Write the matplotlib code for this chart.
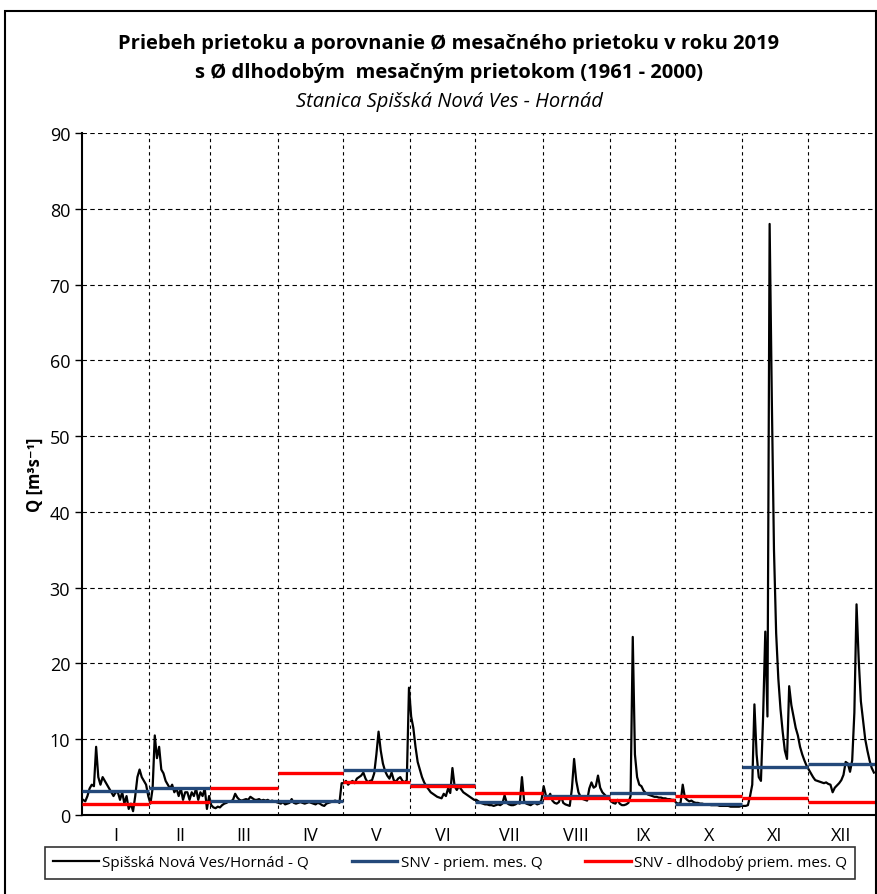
import numpy as np
import matplotlib
matplotlib.use("Agg")
import matplotlib.pyplot as plt
from matplotlib.patches import Rectangle
from matplotlib.lines import Line2D

plt.rcParams["font.family"] = ["Open Sans", "DejaVu Sans"]

months = ["I", "II", "III", "IV", "V", "VI", "VII", "VIII", "IX", "X", "XI", "XII"]
days_in_month = [31, 28, 31, 30, 31, 30, 31, 31, 30, 31, 30, 31]

# daily discharge Q 2019 [m3/s]
q_jan = [2.0, 1.8, 2.5, 3.5, 4.0, 3.8, 9.0, 5.0, 4.0, 5.0, 4.5, 4.0, 3.5, 3.0, 2.5, 3.0,
         3.0, 2.0, 3.0, 1.5, 2.5, 0.8, 1.5, 0.5, 2.5, 5.0, 6.0, 5.0, 4.5, 4.0, 2.5]
q_feb = [1.5, 3.5, 10.5, 7.5, 9.0, 6.0, 5.5, 4.5, 4.0, 3.5, 4.0, 3.0, 3.5, 2.5,
         3.5, 2.0, 3.0, 3.0, 2.0, 3.0, 2.5, 3.5, 2.0, 3.0, 2.5, 3.5, 0.8, 2.5]
q_mar = [1.3, 1.0, 0.9, 1.1, 1.0, 1.3, 1.5, 1.6, 1.8, 1.8, 2.0, 2.8, 2.3, 2.0, 1.9, 2.0,
         2.1, 2.0, 2.4, 2.2, 2.0, 2.0, 2.1, 1.9, 2.0, 1.9, 2.0, 1.8, 1.9, 1.8, 1.7]
q_apr = [1.6, 1.5, 1.7, 1.4, 1.5, 1.6, 2.1, 1.6, 1.5, 1.6, 1.7, 1.6, 1.5, 1.6, 1.7,
         1.6, 1.5, 1.4, 1.6, 1.5, 1.3, 1.2, 1.5, 1.6, 1.7, 1.8, 1.9, 1.8, 1.6, 4.2]
q_may = [4.2, 4.5, 4.0, 4.3, 4.5, 4.2, 4.8, 5.0, 5.2, 5.6, 4.8, 4.3, 4.5, 4.6, 5.5, 8.0,
         11.0, 8.5, 6.8, 5.8, 5.2, 4.8, 5.6, 4.6, 4.4, 4.8, 5.0, 4.5, 4.3, 4.6, 16.8]
q_jun = [13.0, 11.5, 9.0, 7.0, 6.0, 5.0, 4.3, 3.8, 3.4, 3.0, 2.8, 2.6, 2.4, 2.3, 2.2,
         2.8, 2.5, 3.5, 2.9, 6.2, 3.8, 3.3, 3.8, 3.4, 3.0, 2.8, 2.6, 2.4, 2.2, 2.0]
q_jul = [2.0, 1.8, 1.6, 1.5, 1.4, 1.4, 1.3, 1.3, 1.2, 1.3, 1.4, 1.3, 1.5, 2.6, 1.6, 1.4,
         1.3, 1.3, 1.4, 1.6, 1.5, 5.0, 1.8, 1.5, 1.4, 1.3, 1.5, 1.6, 1.4, 1.5, 2.0]
q_aug = [3.8, 2.6, 2.2, 2.8, 1.9, 1.6, 1.5, 1.7, 2.5, 1.6, 1.4, 1.3, 1.2, 3.5, 7.4, 4.5,
         3.0, 2.4, 2.1, 2.0, 1.9, 3.5, 4.3, 3.6, 3.8, 5.2, 3.6, 3.0, 2.7, 2.4, 2.2]
q_sep = [1.8, 1.6, 1.5, 2.0, 1.5, 1.3, 1.3, 1.4, 1.6, 2.5, 23.5, 8.0, 5.0, 4.0, 3.8,
         3.2, 2.9, 2.7, 2.6, 2.5, 2.4, 2.4, 2.3, 2.3, 2.2, 2.2, 2.1, 2.1, 2.0, 2.0]
q_oct = [1.6, 1.5, 1.6, 4.0, 2.3, 2.0, 1.8, 1.9, 1.7, 1.6, 1.6, 1.5, 1.5, 1.4, 1.4, 1.4,
         1.3, 1.3, 1.3, 1.3, 1.2, 1.2, 1.2, 1.2, 1.2, 1.1, 1.1, 1.1, 1.1, 1.1, 1.2]
q_nov = [1.2, 1.2, 1.3, 2.5, 4.0, 14.6, 8.0, 5.0, 4.5, 13.0, 24.2, 13.0, 78.0, 55.0, 35.0,
         24.0, 18.0, 14.0, 11.0, 8.5, 7.4, 17.0, 14.5, 13.0, 11.5, 10.5, 9.0, 8.0, 7.2, 6.5]
q_dec = [6.0, 5.5, 5.0, 4.6, 4.5, 4.4, 4.3, 4.2, 4.3, 4.1, 4.0, 3.0, 3.6, 3.9, 4.2, 4.6,
         5.3, 7.0, 6.8, 5.7, 7.2, 13.5, 27.8, 20.5, 15.0, 12.5, 10.0, 8.5, 7.2, 6.2, 5.6]

# monthly mean 2019 and long-term monthly mean 1961-2000
q_month_2019 = [3.2, 3.5, 1.9, 1.8, 5.9, 3.9, 1.7, 2.5, 2.95, 1.5, 6.3, 6.7]
q_month_longterm = [1.45, 1.7, 3.5, 5.5, 4.3, 3.8, 2.9, 2.2, 1.95, 2.5, 2.3, 1.75]

q_daily = np.array(q_jan + q_feb + q_mar + q_apr + q_may + q_jun +
                   q_jul + q_aug + q_sep + q_oct + q_nov + q_dec)
days = np.arange(len(q_daily)) + 0.5
edges = np.concatenate([[0], np.cumsum(days_in_month)])
mids = (edges[:-1] + edges[1:]) / 2

W, H = 877, 895
fig = plt.figure(figsize=(W / 100, H / 100), dpi=100)
ax = fig.add_axes([82 / W, (H - 816) / H, (875 - 82) / W, (816 - 134) / H])

ax.plot(days, q_daily, color="black", lw=1.6, zorder=3)
ax.hlines(q_month_2019, edges[:-1], edges[1:], color="#24497a", lw=2.4, zorder=4)
ax.hlines(q_month_longterm, edges[:-1], edges[1:], color="#ff0000", lw=2.4, zorder=5)

ax.set_xlim(0, 365)
ax.set_ylim(0, 90)
ax.set_yticks(np.arange(0, 91, 10))
ax.set_xticks(mids)
ax.set_xticklabels(months)
ax.set_xticks(edges[1:-1], minor=True)
ax.tick_params(axis="x", which="both", length=0, labelsize=13, pad=8)
ax.tick_params(axis="y", length=5, width=1, labelsize=13, direction="out")

ax.grid(True, axis="y", which="major", color="black", ls=(0, (4, 3)), lw=0.8)
ax.grid(True, axis="x", which="minor", color="black", ls=(0, (3, 3)), lw=0.8)
ax.grid(False, axis="x", which="major")
for s in ["top", "right"]:
    ax.spines[s].set_visible(False)
ax.spines["left"].set_linewidth(1.5)
ax.spines["bottom"].set_linewidth(1.5)

ax.set_ylabel("Q [m³s⁻¹]", fontsize=12, fontweight="bold", labelpad=4)

fig.text(449 / W, 1 - 44 / H, "Priebeh prietoku a porovnanie Ø mesačného prietoku v roku 2019",
         ha="center", va="center", fontsize=14.5, fontweight="bold")
fig.text(449 / W, 1 - 73 / H, "s Ø dlhodobým  mesačným prietokom (1961 - 2000)",
         ha="center", va="center", fontsize=14.5, fontweight="bold")
fig.text(449 / W, 1 - 102 / H, "Stanica Spišská Nová Ves - Hornád",
         ha="center", va="center", fontsize=14.5, style="italic")

handles = [Line2D([], [], color="black", lw=1.6),
           Line2D([], [], color="#24497a", lw=2.4),
           Line2D([], [], color="#ff0000", lw=2.4)]
labels = ["Spišská Nová Ves/Hornád - Q", "SNV - priem. mes. Q", "SNV - dlhodobý priem. mes. Q"]
leg = fig.legend(handles, labels, loc="center", bbox_to_anchor=(450 / W, 1 - 864 / H),
                 ncol=3, fontsize=11, frameon=True, fancybox=False, edgecolor="black",
                 handlelength=3.0, handletextpad=0.2, columnspacing=2.8,
                 borderpad=0.55, borderaxespad=0)
leg.get_frame().set_linewidth(1.2)

fig.patches.append(Rectangle((5 / W, -0.05), (875.5 - 5) / W, 1.05 - 12 / H,
                             transform=fig.transFigure, fill=False,
                             edgecolor="black", lw=1.5))

fig.savefig("out.png", dpi=100)
